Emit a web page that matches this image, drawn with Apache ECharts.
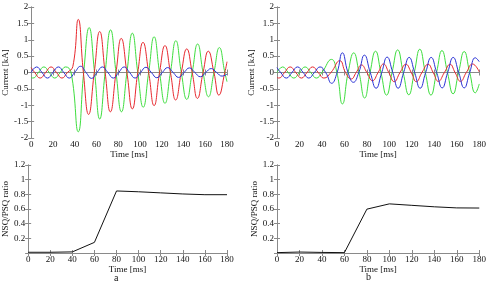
<!DOCTYPE html>
<html>
<head>
<meta charset="utf-8">
<script src="https://cdn.jsdelivr.net/npm/echarts@6/dist/echarts.min.js"></script>
<style>
  html, body { margin: 0; padding: 0; background: #fff; }
  #chart { width: 489px; height: 285px; }
</style>
</head>
<body>
<div id="chart"></div>
<script>
// time ticks [ms]
const timeTicks = [0, 20, 40, 60, 80, 100, 120, 140, 160, 180];

// panel a, phase currents [kA] read at peaks / zero crossings: [t, i]
const aRed = [[0,0.15],[3.3,0],[8.3,-0.17],[13.3,0],[18.3,0.17],[23.3,0],[28.3,-0.17],[33.3,0],[38.3,0.18],
  [43.3,1.62],[48,0],[52.8,-1.28],[58,0],[63,1.25],[68,0],[72.8,-1.2],[78,0],[82.8,1.04],[88,0],[93,-1.11],
  [98,0],[102.8,0.92],[108,0],[113,-1.01],[118,0],[123,0.82],[128,0],[132.8,-0.84],[138,0],[143,0.72],
  [148,0],[152.8,-0.79],[158,0],[162.8,0.65],[168,0],[172.5,-0.69],[178,0],[180,0.33]];
const aGreen = [[0,-0.15],[1.7,-0.17],[6.7,0],[11.7,0.17],[16.7,0],[21.7,-0.17],[26.7,0],[31.7,0.17],[36.7,0],
  [43.3,-1.81],[48.3,0],[53.3,1.37],[58.3,0],[63,-1.42],[68,0],[73,1.3],[78,0],[83,-1.2],[88,0],[93,1.2],
  [98,0],[103,-1.06],[108,0],[113,1.09],[118,0],[123,-0.94],[128,0],[133,0.97],[138,0],[143,-0.82],
  [148,0],[153,0.87],[158,0],[163,-0.74],[168,0],[173,0.76],[178,0],[180,-0.28]];
const aBlue = [[0,0],[5,0.17],[10,0],[15,-0.17],[20,0],[25,0.17],[30,0],[35,-0.17],[40,0],
  [45.5,0.19],[50.5,0],[55.5,-0.18],[60.5,0],[65.5,0.17],[70.5,0],[75.5,-0.17],[80.5,0],[85.5,0.17],
  [90.5,0],[95.5,-0.17],[100.5,0],[105.5,0.16],[110.5,0],[115.5,-0.16],[120.5,0],[125.5,0.15],
  [130.5,0],[135.5,-0.15],[140.5,0],[145.5,0.14],[150.5,0],[155.5,-0.13],[160.5,0],[165.5,0.12],
  [170.5,0],[175.5,-0.11],[180,-0.05]];

// panel b
const bRed = [[0,-0.15],[1.7,-0.17],[6.7,0],[11.7,0.17],[16.7,0],[21.7,-0.17],[26.7,0],[31.7,0.17],[36.7,0],
  [41.7,-0.17],[48,0],[55.9,0.36],[61,0],[66,-0.2],[70.5,0],[75.2,0.23],[80,0],[85,-0.25],[90,0],[94.8,0.26],
  [99.5,0],[104.3,-0.28],[109.5,0],[114.7,0.25],[119.5,0],[124,-0.28],[129,0],[134.4,0.25],[139,0],
  [143.6,-0.27],[149,0],[154,0.25],[158.5,0],[163.3,-0.27],[168.5,0],[174,0.26],[180,0.02]];
const bGreen = [[0,0],[5,0.17],[10,0],[15,-0.17],[20,0],[25,0.17],[30,0],[35,-0.17],[40,0],
  [48.5,0.4],[53.3,0],[58.2,-0.96],[63.3,0],[68.3,0.6],[73,0],[78,-0.78],[82.8,0],[87.7,0.65],[92.5,0],
  [97.5,-0.69],[102.4,0],[107.4,0.69],[112.3,0],[117.3,-0.68],[122.2,0],[127.1,0.71],[132,0],
  [137,-0.69],[142,0],[146.8,0.67],[151.7,0],[156.7,-0.65],[161.6,0],[166.6,0.64],[171.5,0],
  [176.5,-0.62],[180,-0.35]];
const bBlue = [[0,0.15],[3.3,0],[8.3,-0.17],[13.3,0],[18.3,0.17],[23.3,0],[28.3,-0.17],[33.3,0],[38.3,0.17],
  [43.3,0],[48.6,-0.33],[53.5,0],[58.2,0.6],[63.2,0],[68,-0.3],[72.8,0],[77.8,0.53],[83,0],[88.2,-0.48],
  [93.2,0],[98,0.47],[103,0],[107.8,-0.48],[112.7,0],[117.6,0.46],[122.5,0],[127.4,-0.48],[132.3,0],
  [137.2,0.46],[142.1,0],[147,-0.47],[151.9,0],[156.8,0.46],[161.7,0],[166.6,-0.47],[171.5,0],
  [176.5,0.45],[180,0.33]];

// NSQ/PSQ ratio, one value per time tick
const aRatio = [0.01, 0.01, 0.015, 0.145, 0.846, 0.835, 0.82, 0.805, 0.795, 0.795];
const bRatio = [0.005, 0.013, 0.008, 0.005, 0.598, 0.67, 0.65, 0.63, 0.615, 0.613];

const font = '"Liberation Serif", "Times New Roman", serif';
const lineCol = '#8a8a8a';
const txtCol = '#111';

const grids = [
  { left: 23, top: 7, width: 204, height: 131 },
  { left: 277, top: 7, width: 205, height: 131 },
  { left: 23, top: 165, width: 204, height: 88 },
  { left: 277, top: 165, width: 205, height: 88 },
];

// bottom axis with labels + mirror axis on top (box ticks)
const makeX = (gi) => [
  {
    type: 'value', gridIndex: gi, min: 0, max: 180, interval: 20,
    name: 'Time [ms]', nameLocation: 'middle', nameGap: 11,
    nameTextStyle: { fontFamily: font, fontSize: 9, color: txtCol },
    axisLine: { lineStyle: { color: lineCol, width: 1 } },
    axisTick: { inside: true, length: 3, lineStyle: { color: lineCol } },
    axisLabel: { fontFamily: font, fontSize: 9, color: txtCol, margin: 2 },
    splitLine: { show: false },
  },
  {
    type: 'value', gridIndex: gi, position: 'top', min: 0, max: 180, interval: 20,
    axisLine: { lineStyle: { color: lineCol, width: 1 } },
    axisTick: { inside: true, length: 3, lineStyle: { color: lineCol } },
    axisLabel: { show: false }, splitLine: { show: false },
  },
];

const makeY = (gi, name, min, max, step, gap) => [
  {
    type: 'value', gridIndex: gi, min: min, max: max, interval: step,
    name: name, nameLocation: 'middle', nameGap: gap,
    nameTextStyle: { fontFamily: font, fontSize: 9, color: txtCol },
    axisLine: { lineStyle: { color: lineCol, width: 1 } },
    axisTick: { inside: true, length: 3, lineStyle: { color: lineCol } },
    axisLabel: { fontFamily: font, fontSize: 9, color: txtCol, margin: 3, showMinLabel: min !== 0 },
    splitLine: { show: false },
  },
  {
    type: 'value', gridIndex: gi, position: 'right', min: min, max: max, interval: step,
    axisLine: { lineStyle: { color: lineCol, width: 1 } },
    axisTick: { inside: true, length: 3, lineStyle: { color: lineCol } },
    axisLabel: { show: false }, splitLine: { show: false },
  },
];

const wave = (xi, yi, data, color) => ({
  type: 'line', xAxisIndex: xi, yAxisIndex: yi, data: data,
  showSymbol: false, smooth: 0.5, silent: true,
  lineStyle: { color: color, width: 1 },
});

const red = '#e8282e', green = '#3ede3e', blue = '#2b33d6';

const chart = echarts.init(document.getElementById('chart'));
chart.setOption({
  animation: false,
  backgroundColor: '#fff',
  grid: grids,
  xAxis: [].concat(makeX(0), makeX(1), makeX(2), makeX(3)),
  yAxis: [].concat(
    makeY(0, 'Current [kA]', -2, 2, 0.5, 17),
    makeY(1, 'Current [kA]', -2, 2, 0.5, 17),
    makeY(2, 'NSQ/PSQ ratio', 0, 1.2, 0.2, 17),
    makeY(3, 'NSQ/PSQ ratio', 0, 1.2, 0.2, 17)
  ),
  series: [
    wave(0, 0, aGreen, green),
    wave(0, 0, aRed, red),
    wave(0, 0, aBlue, blue),
    wave(2, 2, bGreen, green),
    wave(2, 2, bRed, red),
    wave(2, 2, bBlue, blue),
    {
      type: 'line', xAxisIndex: 4, yAxisIndex: 4, showSymbol: false, silent: true,
      data: timeTicks.map((t, i) => [t, aRatio[i]]),
      lineStyle: { color: txtCol, width: 1 },
    },
    {
      type: 'line', xAxisIndex: 6, yAxisIndex: 6, showSymbol: false, silent: true,
      data: timeTicks.map((t, i) => [t, bRatio[i]]),
      lineStyle: { color: txtCol, width: 1 },
    },
  ],
  graphic: [
    { type: 'text', left: 114, top: 273, style: { text: 'a', font: '10px ' + font, fill: txtCol } },
    { type: 'text', left: 366, top: 272, style: { text: 'b', font: '10px ' + font, fill: txtCol } },
  ],
});
</script>
</body>
</html>
